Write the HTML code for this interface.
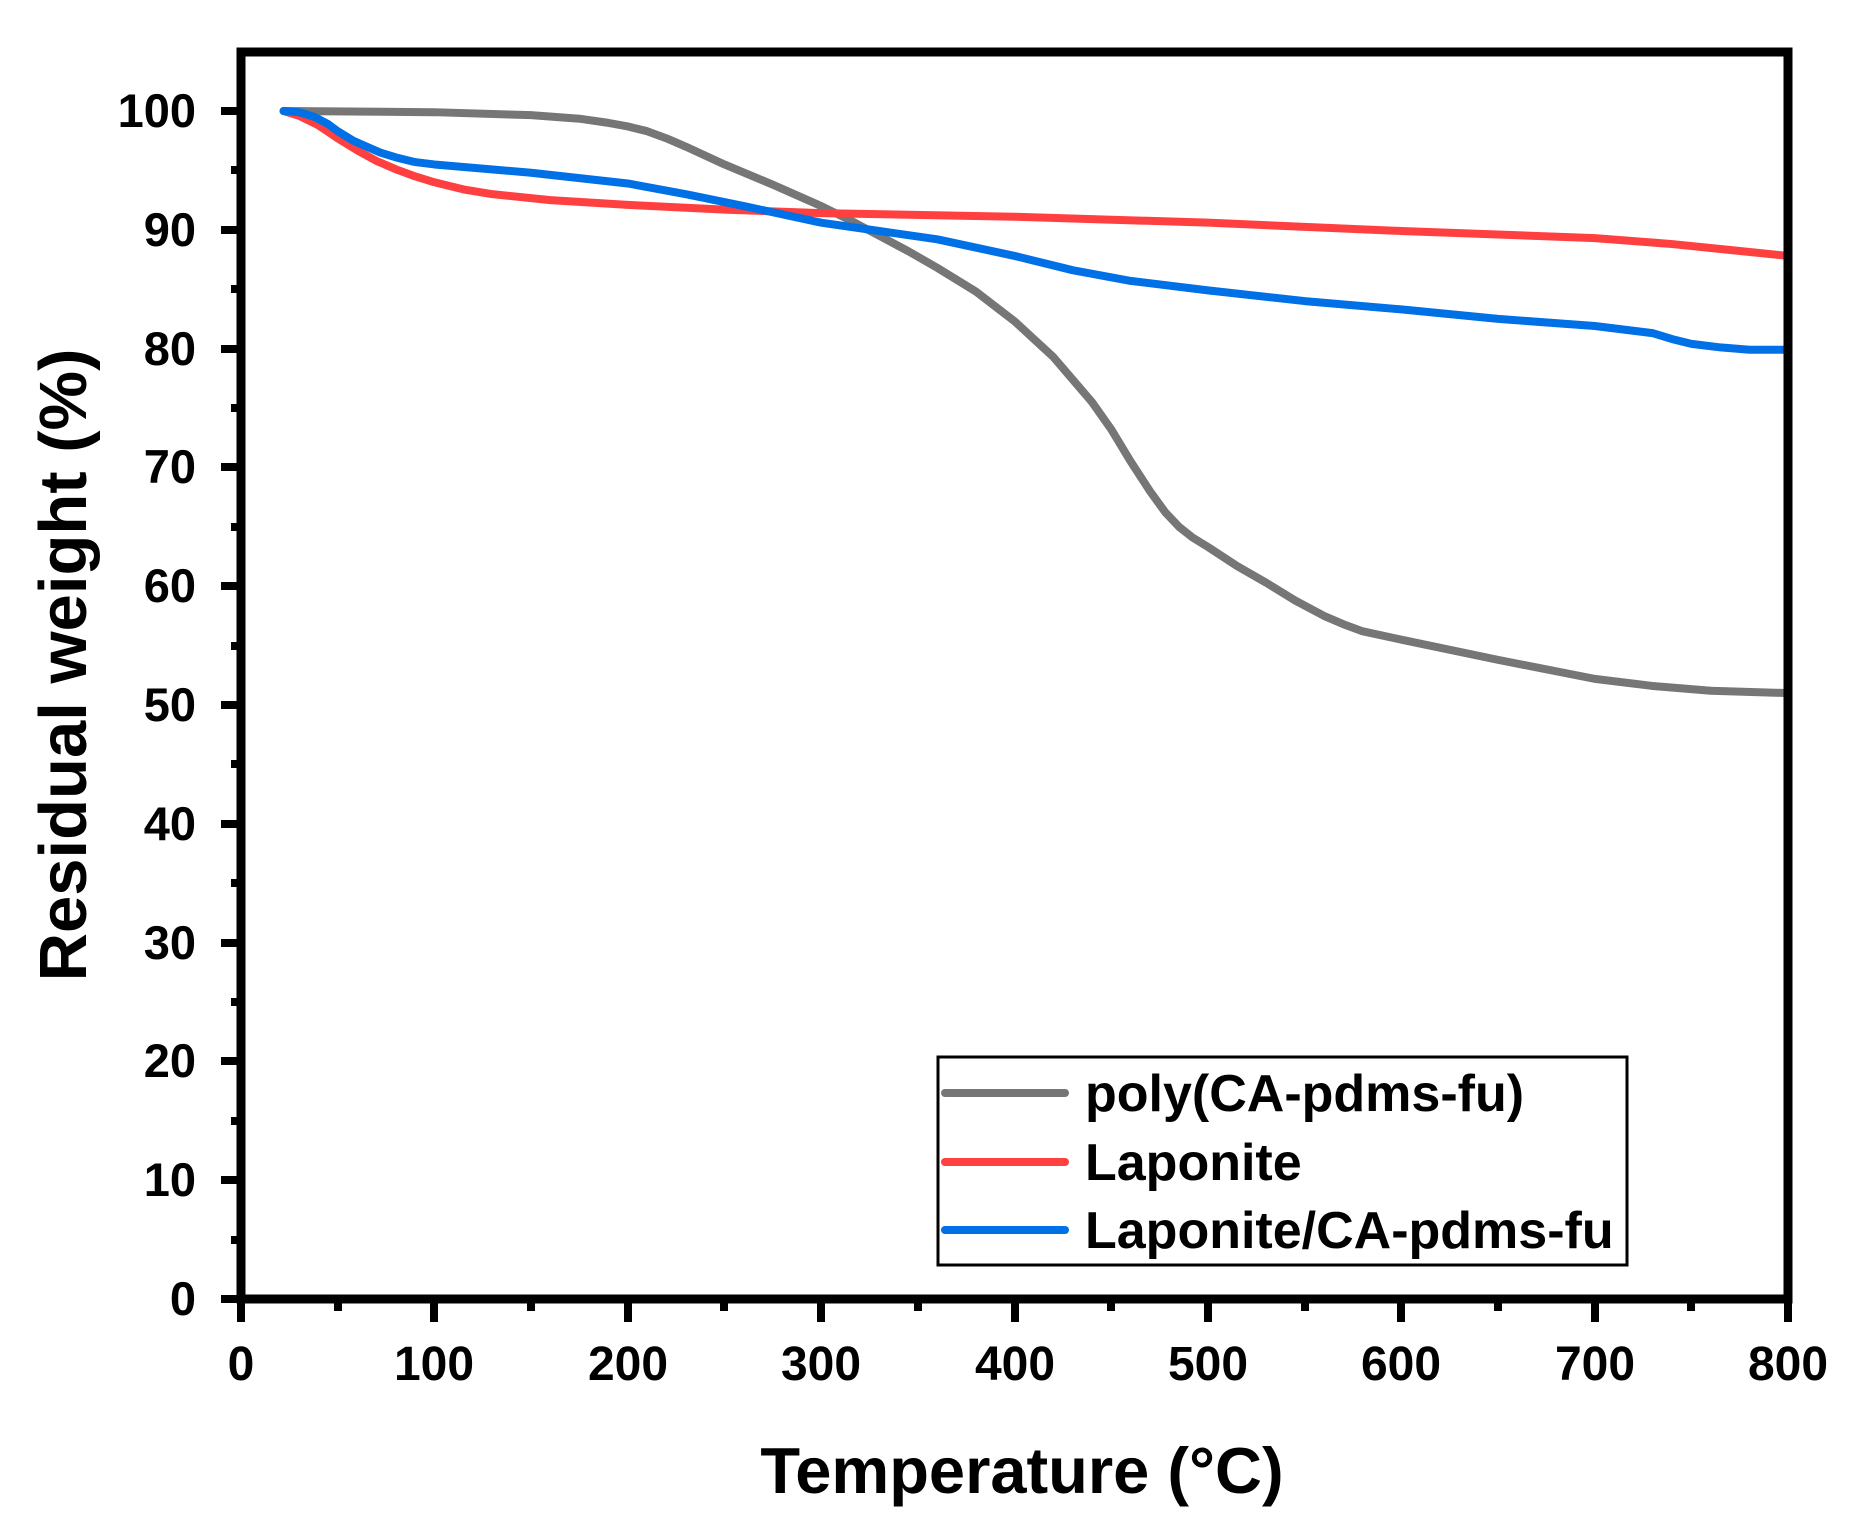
<!DOCTYPE html>
<html><head><meta charset="utf-8"><style>
html,body{margin:0;padding:0;background:#fff;}
svg{display:block;}
text{font-family:"Liberation Sans",Arial,sans-serif;font-weight:bold;fill:#000;}
</style></head><body>
<svg width="1858" height="1534" viewBox="0 0 1858 1534" xmlns="http://www.w3.org/2000/svg">
<g fill="none" stroke-linejoin="round" stroke-linecap="round">
<g transform="translate(241,1299) scale(1.934,-11.88)">
<polyline vector-effect="non-scaling-stroke" stroke="#767676" stroke-width="8" points="22,100 100,99.9 150,99.65 175,99.35 190,99.0 200,98.7 210,98.3 220,97.7 230,97 250,95.5 275,93.8 300,92 315,90.8 330,89.5 345,88.2 360,86.8 380,84.8 400,82.3 420,79.3 440,75.5 450,73.2 460,70.5 470,68 478,66.2 485,65 492,64.1 500,63.3 515,61.7 530,60.3 545,58.8 560,57.5 570,56.8 580,56.2 600,55.5 650,53.8 700,52.2 730,51.6 760,51.2 800,51"/>
<polyline vector-effect="non-scaling-stroke" stroke="#FF4040" stroke-width="8" points="22,100 30,99.6 40,98.8 50,97.7 60,96.7 70,95.8 80,95.1 90,94.5 100,94 115,93.4 130,93.0 160,92.5 200,92.1 250,91.7 300,91.4 400,91.1 500,90.6 600,89.9 700,89.3 740,88.8 770,88.3 800,87.8"/>
<polyline vector-effect="non-scaling-stroke" stroke="#0070E6" stroke-width="8" points="22,100 30,99.9 38,99.5 45,98.9 50,98.3 58,97.5 65,97 72,96.5 80,96.1 90,95.7 100,95.5 150,94.8 200,93.9 230,93 260,92 300,90.6 330,89.9 360,89.2 400,87.8 430,86.6 460,85.7 500,84.9 550,84 600,83.3 650,82.5 700,81.9 730,81.3 740,80.8 750,80.4 765,80.1 780,79.9 800,79.9"/>
</g>
</g>
<rect x="241" y="52" width="1547" height="1247" fill="none" stroke="#000" stroke-width="9"/>
<g stroke="#000" stroke-width="8">
<path d="M221,1299H241M221,1180H241M221,1061H241M221,943H241M221,824H241M221,705H241M221,586H241M221,467H241M221,349H241M221,230H241M221,111H241"/>
<path d="M231,1240H241M231,1121H241M231,1002H241M231,883H241M231,764H241M231,646H241M231,527H241M231,408H241M231,289H241M231,170H241"/>
<path d="M241,1299V1322M434,1299V1322M628,1299V1322M821,1299V1322M1015,1299V1322M1208,1299V1322M1401,1299V1322M1595,1299V1322M1788,1299V1322"/>
<path d="M338,1299V1311M531,1299V1311M724,1299V1311M918,1299V1311M1111,1299V1311M1305,1299V1311M1498,1299V1311M1691,1299V1311"/>
</g>
<g font-size="47" text-anchor="end">
<text x="196" y="1315">0</text><text x="196" y="1196">10</text><text x="196" y="1077">20</text><text x="196" y="959">30</text><text x="196" y="840">40</text><text x="196" y="721">50</text><text x="196" y="602">60</text><text x="196" y="483">70</text><text x="196" y="365">80</text><text x="196" y="246">90</text><text x="196" y="127">100</text>
</g>
<g font-size="48" text-anchor="middle">
<text x="241" y="1380">0</text><text x="434" y="1380">100</text><text x="628" y="1380">200</text><text x="821" y="1380">300</text><text x="1015" y="1380">400</text><text x="1208" y="1380">500</text><text x="1401" y="1380">600</text><text x="1595" y="1380">700</text><text x="1788" y="1380">800</text>
</g>
<text x="1022" y="1493" font-size="65" text-anchor="middle">Temperature (°C)</text>
<text transform="translate(86,665) rotate(-90)" font-size="67" text-anchor="middle">Residual weight (%)</text>
<rect x="938" y="1057" width="689" height="208" fill="#fff" stroke="#000" stroke-width="3"/>
<g stroke-width="8" stroke-linecap="round">
<line x1="945" y1="1093" x2="1065" y2="1093" stroke="#767676"/>
<line x1="945" y1="1162" x2="1065" y2="1162" stroke="#FF4040"/>
<line x1="945" y1="1230" x2="1065" y2="1230" stroke="#0070E6"/>
</g>
<g font-size="52">
<text x="1085" y="1111">poly(CA-pdms-fu)</text>
<text x="1085" y="1180">Laponite</text>
<text x="1085" y="1248">Laponite/CA-pdms-fu</text>
</g>
</svg>
</body></html>
